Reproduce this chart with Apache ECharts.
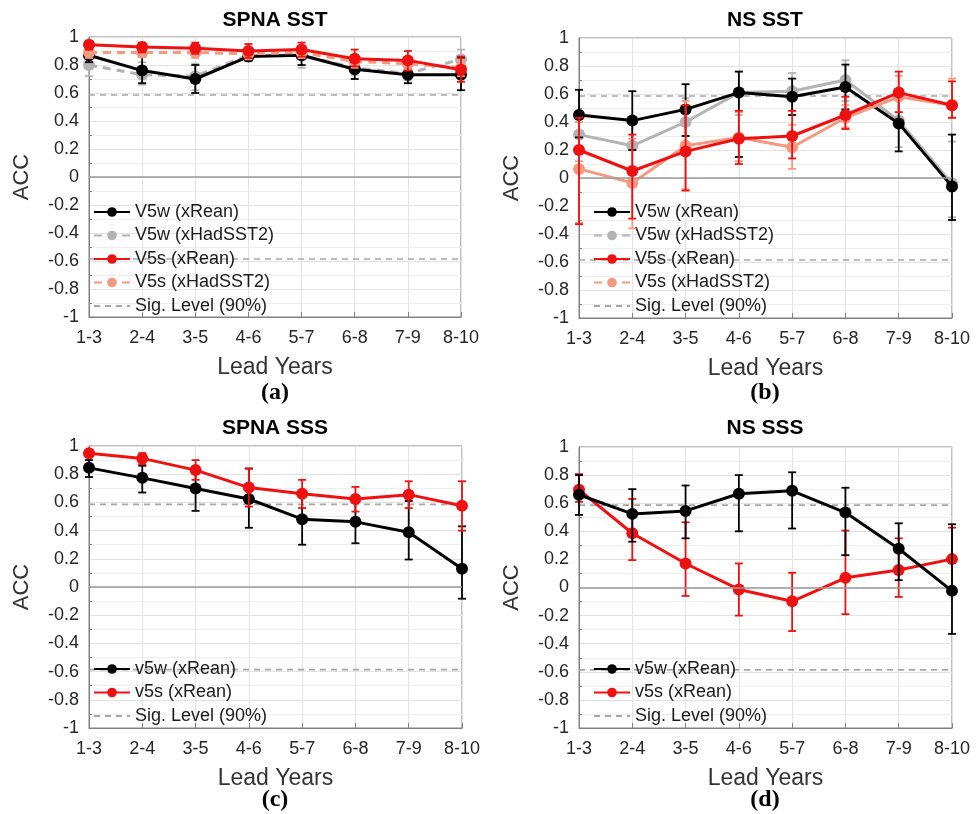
<!DOCTYPE html>
<html>
<head>
<meta charset="utf-8">
<title>ACC vs lead years</title>
<script src="https://cdn.jsdelivr.net/npm/echarts@6/dist/echarts.min.js"></script>
<style>
  html, body { margin: 0; padding: 0; background: #fff; }
  #chart1 { width: 980px; height: 814px; }
</style>
</head>
<body>
<div id="chart1"></div>
<script>
// lead year categories
var leadYears = ['1-3', '2-4', '3-5', '4-6', '5-7', '6-8', '7-9', '8-10'];
var sigLevel = 0.586;

// (a) SPNA SST
var spnaSst_v5wRean = [0.87, 0.76, 0.70, 0.86, 0.87, 0.77, 0.73, 0.73];
var spnaSst_v5wRean_lo = [0.82, 0.67, 0.60, 0.83, 0.80, 0.70, 0.67, 0.62];
var spnaSst_v5wRean_hi = [0.91, 0.86, 0.80, 0.90, 0.92, 0.84, 0.78, 0.85];
var spnaSst_v5wHad = [0.80, 0.73, 0.72, 0.87, 0.87, 0.78, 0.74, 0.84];
var spnaSst_v5wHad_lo = [0.72, 0.66, 0.62, 0.83, 0.78, 0.73, 0.69, 0.76];
var spnaSst_v5wHad_hi = [0.86, 0.82, 0.81, 0.91, 0.92, 0.84, 0.80, 0.91];
var spnaSst_v5sRean = [0.945, 0.928, 0.92, 0.90, 0.91, 0.845, 0.833, 0.766];
var spnaSst_v5sRean_lo = [0.91, 0.89, 0.88, 0.85, 0.86, 0.79, 0.76, 0.68];
var spnaSst_v5sRean_hi = [0.97, 0.96, 0.96, 0.95, 0.96, 0.91, 0.90, 0.86];
var spnaSst_v5sHad = [0.89, 0.89, 0.89, 0.88, 0.89, 0.825, 0.81, 0.78];
var spnaSst_v5sHad_lo = [0.85, 0.86, 0.85, 0.84, 0.85, 0.78, 0.77, 0.72];
var spnaSst_v5sHad_hi = [0.93, 0.93, 0.93, 0.92, 0.93, 0.87, 0.85, 0.84];

// (b) NS SST
var nsSst_v5wRean = [0.45, 0.41, 0.49, 0.61, 0.58, 0.65, 0.39, -0.06];
var nsSst_v5wRean_lo = [0.29, 0.20, 0.30, 0.15, 0.45, 0.49, 0.19, -0.30];
var nsSst_v5wRean_hi = [0.63, 0.62, 0.67, 0.76, 0.71, 0.81, 0.59, 0.31];
var nsSst_v5wHad = [0.31, 0.23, 0.40, 0.61, 0.62, 0.70, 0.41, -0.04];
var nsSst_v5wHad_lo = [0.12, 0.05, 0.22, 0.45, 0.48, 0.55, 0.22, -0.28];
var nsSst_v5wHad_hi = [0.48, 0.42, 0.57, 0.76, 0.75, 0.84, 0.60, 0.26];
var nsSst_v5sRean = [0.20, 0.05, 0.19, 0.28, 0.30, 0.45, 0.61, 0.52];
var nsSst_v5sRean_lo = [-0.33, -0.29, -0.09, 0.10, 0.14, 0.35, 0.47, 0.43];
var nsSst_v5sRean_hi = [0.43, 0.31, 0.52, 0.48, 0.48, 0.58, 0.76, 0.69];
var nsSst_v5sHad = [0.065, -0.035, 0.23, 0.29, 0.22, 0.43, 0.58, 0.52];
var nsSst_v5sHad_lo = [-0.32, -0.36, -0.08, 0.12, 0.065, 0.36, 0.47, 0.43];
var nsSst_v5sHad_hi = [0.40, 0.28, 0.55, 0.47, 0.38, 0.52, 0.73, 0.71];

// (c) SPNA SSS
var spnaSss_v5w = [0.845, 0.774, 0.698, 0.624, 0.481, 0.462, 0.388, 0.129];
var spnaSss_v5w_lo = [0.78, 0.67, 0.54, 0.42, 0.30, 0.31, 0.195, -0.083];
var spnaSss_v5w_hi = [0.90, 0.86, 0.81, 0.84, 0.655, 0.62, 0.61, 0.43];
var spnaSss_v5s = [0.948, 0.912, 0.829, 0.705, 0.662, 0.624, 0.655, 0.576];
var spnaSss_v5s_lo = [0.92, 0.87, 0.76, 0.57, 0.56, 0.535, 0.56, 0.40];
var spnaSss_v5s_hi = [0.97, 0.95, 0.90, 0.84, 0.76, 0.71, 0.75, 0.75];

// (d) NS SSS
var nsSss_v5w = [0.66, 0.524, 0.545, 0.667, 0.688, 0.533, 0.276, -0.024];
var nsSss_v5w_lo = [0.517, 0.326, 0.35, 0.40, 0.42, 0.23, 0.052, -0.33];
var nsSss_v5w_hi = [0.80, 0.70, 0.726, 0.80, 0.82, 0.71, 0.457, 0.45];
var nsSss_v5s = [0.695, 0.386, 0.171, -0.014, -0.098, 0.069, 0.124, 0.202];
var nsSss_v5s_lo = [0.61, 0.195, -0.06, -0.20, -0.31, -0.19, -0.067, -0.02];
var nsSss_v5s_hi = [0.807, 0.63, 0.464, 0.171, 0.105, 0.405, 0.35, 0.426];

var BLACK = '#000000', GRAY = '#b3b3b3', RED = '#ee1111', SALMON = '#f59a80';
var SIGCOL = '#a6a6a6';
var FONT = 'Liberation Sans, Arial, sans-serif';
var SERIF = 'Liberation Serif, Times New Roman, serif';

var myChart = echarts.init(document.getElementById('chart1'));

// panel boxes
var grids = [
	{left: 89, top: 37, width: 372, height: 280},
	{left: 579, top: 38, width: 373, height: 280},
	{left: 89, top: 446, width: 373, height: 282},
	{left: 579, top: 447, width: 373, height: 281}
];

function makeX(i) {
	return {
		type: 'category', gridIndex: i, data: leadYears, boundaryGap: false,
		axisLine: {onZero: false, lineStyle: {color: '#808080'}},
		axisTick: {inside: true, length: 5, lineStyle: {color: '#808080'}},
		axisLabel: {fontSize: 18, color: '#262626', margin: 12, fontFamily: FONT},
		splitLine: {show: true, lineStyle: {color: '#e3e3e3'}},
		name: 'Lead Years', nameLocation: 'middle', nameGap: 39,
		nameTextStyle: {fontSize: 23, color: '#333', fontFamily: FONT}
	};
}
function makeY(i) {
	return {
		type: 'value', gridIndex: i, min: -1, max: 1, interval: 0.2,
		axisLine: {show: true, lineStyle: {color: '#808080'}},
		axisTick: {inside: true, length: 5, lineStyle: {color: '#808080'}},
		minorTick: {show: true, splitNumber: 2, length: 3, lineStyle: {color: '#808080'}},
		axisLabel: {fontSize: 18, color: '#262626', margin: 10, fontFamily: FONT},
		splitLine: {show: true, lineStyle: {color: '#e3e3e3'}},
		minorSplitLine: {show: true, lineStyle: {color: '#eeeeee'}},
		name: 'ACC', nameLocation: 'middle', nameGap: 56,
		nameTextStyle: {fontSize: 22, color: '#333', fontFamily: FONT}
	};
}

function lineSeries(name, i, data, color, dashed, z) {
	return {
		name: name, type: 'line', xAxisIndex: i, yAxisIndex: i, data: data,
		symbol: 'circle', symbolSize: 12, z: z,
		itemStyle: {color: color},
		lineStyle: {color: color, width: 3, type: dashed ? [8, 6] : 'solid'},
		silent: true
	};
}

function errSeries(i, lo, hi, color, z) {
	var d = [];
	for (var k = 0; k < lo.length; k++) {
		d.push([k, lo[k], hi[k]]);
	}
	return {
		type: 'custom', xAxisIndex: i, yAxisIndex: i, z: z, silent: true,
		encode: {x: 0, y: [1, 2]},
		data: d,
		renderItem: function (params, api) {
			var x = api.value(0);
			var p1 = api.coord([x, api.value(1)]);
			var p2 = api.coord([x, api.value(2)]);
			var w = 4;
			var st = {stroke: color, lineWidth: 1.8};
			return {
				type: 'group',
				children: [
					{type: 'line', shape: {x1: p1[0], y1: p1[1], x2: p2[0], y2: p2[1]}, style: st},
					{type: 'line', shape: {x1: p1[0] - w, y1: p1[1], x2: p1[0] + w, y2: p1[1]}, style: st},
					{type: 'line', shape: {x1: p2[0] - w, y1: p2[1], x2: p2[0] + w, y2: p2[1]}, style: st}
				]
			};
		}
	};
}

function sigSeries(i) {
	var up = [], dn = [];
	for (var k = 0; k < leadYears.length; k++) {
		up.push(sigLevel);
		dn.push(-sigLevel);
	}
	var st = {color: SIGCOL, width: 1.6, type: [6, 5]};
	// itemStyle transparent so the legend shows only the dashed line
	return [{
		name: 'Sig. Level (90%)', type: 'line', xAxisIndex: i, yAxisIndex: i, data: up,
		symbol: 'none', lineStyle: st, itemStyle: {color: 'rgba(0,0,0,0)'}, z: 1, silent: true,
		markLine: {
			silent: true, symbol: 'none', label: {show: false},
			lineStyle: {color: '#9a9a9a', width: 1.5, type: 'solid'},
			data: [{yAxis: 0}]
		}
	}, {
		name: 'Sig. Level (90%)', type: 'line', xAxisIndex: i, yAxisIndex: i, data: dn,
		symbol: 'none', lineStyle: st, itemStyle: {color: 'rgba(0,0,0,0)'}, z: 1, silent: true
	}];
}

var series = [];
// (a)
series = series.concat(sigSeries(0));
series.push(errSeries(0, spnaSst_v5wHad_lo, spnaSst_v5wHad_hi, GRAY, 2));
series.push(lineSeries('V5w (xHadSST2)', 0, spnaSst_v5wHad, GRAY, true, 2));
series.push(errSeries(0, spnaSst_v5wRean_lo, spnaSst_v5wRean_hi, BLACK, 3));
series.push(lineSeries('V5w (xRean)', 0, spnaSst_v5wRean, BLACK, false, 3));
series.push(errSeries(0, spnaSst_v5sHad_lo, spnaSst_v5sHad_hi, SALMON, 4));
series.push(lineSeries('V5s (xHadSST2)', 0, spnaSst_v5sHad, SALMON, true, 4));
series.push(errSeries(0, spnaSst_v5sRean_lo, spnaSst_v5sRean_hi, RED, 5));
series.push(lineSeries('V5s (xRean)', 0, spnaSst_v5sRean, RED, false, 5));
// (b)
series = series.concat(sigSeries(1));
series.push(errSeries(1, nsSst_v5wHad_lo, nsSst_v5wHad_hi, GRAY, 2));
series.push(lineSeries('V5w (xHadSST2)', 1, nsSst_v5wHad, GRAY, false, 2));
series.push(errSeries(1, nsSst_v5wRean_lo, nsSst_v5wRean_hi, BLACK, 3));
series.push(lineSeries('V5w (xRean)', 1, nsSst_v5wRean, BLACK, false, 3));
series.push(errSeries(1, nsSst_v5sHad_lo, nsSst_v5sHad_hi, SALMON, 4));
series.push(lineSeries('V5s (xHadSST2)', 1, nsSst_v5sHad, SALMON, false, 4));
series.push(errSeries(1, nsSst_v5sRean_lo, nsSst_v5sRean_hi, RED, 5));
series.push(lineSeries('V5s (xRean)', 1, nsSst_v5sRean, RED, false, 5));
// (c)
series = series.concat(sigSeries(2));
series.push(errSeries(2, spnaSss_v5w_lo, spnaSss_v5w_hi, BLACK, 3));
series.push(lineSeries('v5w (xRean)', 2, spnaSss_v5w, BLACK, false, 3));
series.push(errSeries(2, spnaSss_v5s_lo, spnaSss_v5s_hi, RED, 5));
series.push(lineSeries('v5s (xRean)', 2, spnaSss_v5s, RED, false, 5));
// (d)
series = series.concat(sigSeries(3));
series.push(errSeries(3, nsSss_v5s_lo, nsSss_v5s_hi, RED, 3));
series.push(lineSeries('v5s (xRean)', 3, nsSss_v5s, RED, false, 3));
series.push(errSeries(3, nsSss_v5w_lo, nsSss_v5w_hi, BLACK, 5));
series.push(lineSeries('v5w (xRean)', 3, nsSss_v5w, BLACK, false, 5));

var legTop4 = ['V5w (xRean)', 'V5w (xHadSST2)', 'V5s (xRean)', 'V5s (xHadSST2)', 'Sig. Level (90%)'];
var legBot3 = ['v5w (xRean)', 'v5s (xRean)', 'Sig. Level (90%)'];

function makeLegend(left, top, names) {
	return {
		orient: 'vertical', left: left, top: top, data: names,
		itemWidth: 36, itemHeight: 12, itemGap: 5.5, selectedMode: false,
		textStyle: {fontSize: 18, color: '#1a1a1a', fontFamily: FONT},
		padding: 0
	};
}

function txt(x, y, s, size, bold, family) {
	return {
		type: 'text', x: x, y: y, silent: true,
		style: {
			text: s, fill: '#000', textAlign: 'center', textVerticalAlign: 'middle',
			font: (bold ? 'bold ' : '') + size + 'px ' + family
		}
	};
}

var option = {
	animation: false,
	backgroundColor: '#fff',
	grid: grids.map(function (g) {
		return {left: g.left, top: g.top, width: g.width, height: g.height,
			show: true, borderColor: '#808080', borderWidth: 1, containLabel: false};
	}),
	xAxis: [makeX(0), makeX(1), makeX(2), makeX(3)],
	yAxis: [makeY(0), makeY(1), makeY(2), makeY(3)],
	legend: [
		makeLegend(93, 203, legTop4),
		makeLegend(593, 203, legTop4),
		makeLegend(93, 660, legBot3),
		makeLegend(593, 660, legBot3)
	],
	graphic: [
		txt(275, 20, 'SPNA SST', 21, true, FONT),
		txt(765, 20, 'NS SST', 21, true, FONT),
		txt(275, 428, 'SPNA SSS', 21, true, FONT),
		txt(765, 428, 'NS SSS', 21, true, FONT),
		txt(275, 393, '(a)', 24, true, SERIF),
		txt(765, 393, '(b)', 24, true, SERIF),
		txt(275, 800, '(c)', 24, true, SERIF),
		txt(765, 800, '(d)', 24, true, SERIF)
	],
	series: series
};
myChart.setOption(option);
</script>
</body>
</html>
